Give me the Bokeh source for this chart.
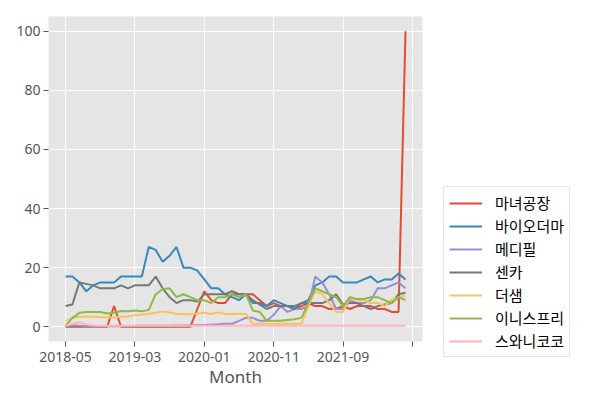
import pandas as pd
from bokeh.plotting import figure
from bokeh.models import Legend, LegendItem, FixedTicker, Range1d, ColumnDataSource
from bokeh.embed import file_html
from bokeh.resources import INLINE

# ---- data ----
months = [str(m) for m in pd.period_range("2018-05", "2022-06", freq="M")]

brands = ["마녀공장", "바이오더마", "메디필", "센카", "더샘", "이니스프리", "스와니코코"]
colors = ["#E24A33", "#348ABD", "#988ED5", "#777777", "#FBC15E", "#8EBA42", "#FFB5B8"]

manyo = [0, 0, 0, 0, 0, 0, 0, 7, 0, 0,
         0, 0, 0, 0, 0, 0, 0, 0, 0, 6,
         12, 9, 8, 8, 11, 11, 11, 11, 9, 7,
         8, 7, 7, 6, 7, 8, 7, 7, 6, 6,
         7, 6, 7, 7, 7, 6, 6, 5, 5, 100]
bioderma = [17, 17, 15, 12, 14, 15, 15, 15, 17, 17,
            17, 17, 27, 26, 22, 24, 27, 20, 20, 19,
            16, 13, 13, 11, 10, 9, 11, 8, 8, 7,
            9, 8, 7, 7, 8, 9, 14, 15, 17, 17,
            15, 15, 15, 16, 17, 15, 16, 16, 18, 16]
medipeel = [0.2, 0.5, 0.3, 0.2, 0.2, 0.2, 0.2, 0.2, 0.2, 0.2,
            0.3, 0.3, 0.3, 0.3, 0.3, 0.3, 0.4, 0.4, 0.5, 0.5,
            0.6, 0.7, 0.8, 1, 1, 2, 3, 3, 2, 2,
            4, 7, 5, 6, 6, 7, 17, 15, 11, 6,
            6, 9, 8, 8, 9, 13, 13, 14, 15, 13]
senka = [7, 7.5, 15, 14.5, 14, 13, 13, 13, 14, 13,
         14, 14, 14, 17, 13, 10, 8, 9, 9, 8.5,
         11, 11, 11, 11, 12, 11, 11, 9, 7.5, 6,
         7, 7, 7, 6, 8, 8, 8, 8, 9, 11,
         7.5, 8, 8, 7, 6, 7, 7.5, 8, 11, 11.5]
thesaem = [2, 3, 3.4, 3.4, 3.4, 3.2, 3.2, 3.1, 3.4, 3.5,
           3.9, 4.1, 4.3, 4.7, 5.2, 4.8, 4.3, 4.3, 4.2, 4.5,
           4.7, 4.3, 4.8, 4.3, 4.3, 4.3, 4.3, 1, 1, 1,
           1, 1, 1, 1, 1, 7, 12, 11, 8, 5,
           5, 10, 9, 9, 8, 8, 7, 9, 10, 10.5]
innisfree = [0.3, 3, 4.7, 5, 5, 5, 4.5, 4.7, 5.3, 5.2,
             5.5, 5.2, 5.7, 11, 12.7, 13, 10, 11, 10, 9,
             9, 8, 10, 10, 11, 10, 11, 5.5, 5, 2,
             2, 2, 2.3, 2.5, 3, 8, 13, 12, 11, 10,
             7, 10, 9.4, 9.4, 10, 10, 9, 8, 10, 9]
swanicoco = [0.3, 1, 1.5, 0.8, 0.4, 0.3, 0.3, 0.3, 0.3, 0.3,
             0.3, 0.3, 0.3, 0.3, 0.3, 0.3, 0.3, 0.3, 0.3, 0.3,
             0.3, 0.3, 0.3, 0.3, 0.3, 0.3, 0.3, 0.3, 0.3, 0.3,
             0.3, 0.3, 0.3, 0.3, 0.3, 0.3, 0.3, 0.3, 0.3, 0.3,
             0.3, 0.3, 0.3, 0.3, 0.3, 0.3, 0.3, 0.3, 0.3, 0.3]

series = [manyo, bioderma, medipeel, senka, thesaem, innisfree, swanicoco]

tick_positions = [0, 10, 20, 30, 40, 50]
tick_labels = {t: (months[t] if t < len(months) else "") for t in tick_positions}

FONT = "Noto Sans"
KFONT = "Noto Sans CJK KR"

p = figure(frame_width=374, frame_height=325,
           min_border_left=48, min_border_right=169,
           min_border_top=16, min_border_bottom=51,
           x_range=Range1d(-2.45, 51.45), y_range=Range1d(-5, 105),
           output_backend="svg", toolbar_location=None)

p.background_fill_color = "#E5E5E5"
p.border_fill_color = "white"
p.outline_line_color = None

xs = list(range(len(months)))
items = []
for name, col, vals in zip(brands, colors, series):
    src = ColumnDataSource(dict(x=xs, y=vals, month=months))
    r = p.line("x", "y", source=src, line_color=col, line_width=2)
    items.append(LegendItem(label=name, renderers=[r]))

# axes
p.xaxis.ticker = FixedTicker(ticks=tick_positions)
p.xaxis.major_label_overrides = tick_labels
p.yaxis.ticker = FixedTicker(ticks=[0, 20, 40, 60, 80, 100])
for ax in (p.xaxis[0], p.yaxis[0]):
    ax.axis_line_color = None
    ax.minor_tick_line_color = None
    ax.major_tick_line_color = "#555555"
    ax.major_tick_out = 5
    ax.major_tick_in = 0
    ax.major_label_text_color = "#555555"
    ax.major_label_text_font = FONT
    ax.major_label_text_font_size = "14px"
    ax.major_label_standoff = 3
p.xaxis.major_label_standoff = 5
p.xaxis.axis_label = "Month"
p.xaxis.axis_label_text_font = FONT
p.xaxis.axis_label_text_font_size = "17px"
p.xaxis.axis_label_text_font_style = "normal"
p.xaxis.axis_label_text_color = "#555555"
p.xaxis.axis_label_standoff = 0

p.xgrid.grid_line_color = "white"
p.ygrid.grid_line_color = "white"
p.xgrid.grid_line_width = 1
p.ygrid.grid_line_width = 1

legend = Legend(items=items, location=(21, -16))
legend.margin = 0
legend.padding = 5
legend.spacing = 2
legend.glyph_width = 33
legend.glyph_height = 20
legend.label_height = 20
legend.label_standoff = 13
legend.label_text_font = KFONT
legend.label_text_font_size = "15px"
legend.label_text_color = "black"
legend.border_line_color = "#CCCCCC"
legend.border_line_width = 1
legend.background_fill_color = "white"
legend.background_fill_alpha = 1
p.add_layout(legend, "right")

open("out.html", "w").write(file_html(p, INLINE))
